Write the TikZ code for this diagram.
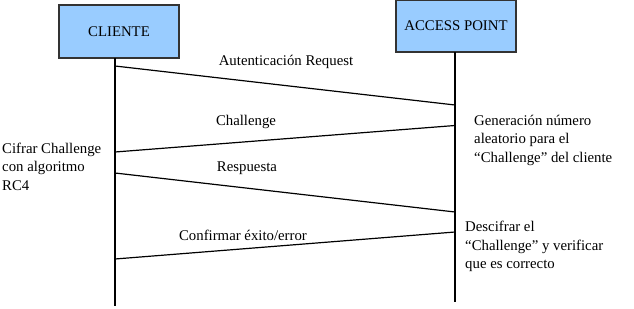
\documentclass[tikz,border=0pt]{standalone}
\usepackage{fontspec}
\setmainfont{Liberation Serif}
\begin{document}
\begin{tikzpicture}[x=1pt,y=-1pt,
  actor/.style={draw=black!80, line width=1.3pt, fill=blue!40!cyan!40!white, fill={rgb,255:red,153;green,204;blue,255}, inner sep=0pt},
  lifeline/.style={line width=1.2pt},
  msg/.style={line width=1.2pt},
  lbl/.style={inner sep=0pt, font=\fontsize{14.8}{18.5}\selectfont},
  note/.style={lbl, anchor=west, align=left}]
\useasboundingbox (0,0) rectangle (634,308);
% participants
\node[actor, minimum width=120pt, minimum height=53pt, font=\fontsize{14.8}{18}\selectfont] (cli) at (119,31.5) {CLIENTE};
\node[actor, minimum width=120pt, minimum height=52pt, font=\fontsize{14.8}{18}\selectfont] (ap) at (456,26) {ACCESS POINT};
% lifeline ends
\coordinate (cliEnd) at (115,306);
\coordinate (apEnd) at (455,302);
\draw[lifeline] (115,58) -- (cliEnd);
\draw[lifeline] (455,52) -- (apEnd);
% message end points
\coordinate (c1) at (115,66);   \coordinate (a1) at (455,105);
\coordinate (a2) at (455,125.5);\coordinate (c2) at (115,152);
\coordinate (c3) at (115,173);  \coordinate (a3) at (455,212);
\coordinate (a4) at (455,232);  \coordinate (c4) at (115,259);
\draw[msg] (c1) -- (a1);
\draw[msg] (a2) -- (c2);
\draw[msg] (c3) -- (a3);
\draw[msg] (a4) -- (c4);
% message labels
\node[lbl] (m1) at (286,62) {Autenticación Request};
\node[lbl] (m2) at (246,122) {Challenge};
\node[lbl] (m3) at (247,168) {Respuesta};
\node[lbl] (m4) at (243,235) {Confirmar éxito/error};
% notes
\node[note] (n1) at (474,140) {Generación número\\aleatorio para el\\“Challenge” del cliente};
\node[note] (n2) at (2,166.5) {Cifrar Challenge\\con algoritmo\\RC4};
\node[note] (n3) at (465,246.5) {Descifrar el\\“Challenge” y verificar\\que es correcto};
\end{tikzpicture}
\end{document}
